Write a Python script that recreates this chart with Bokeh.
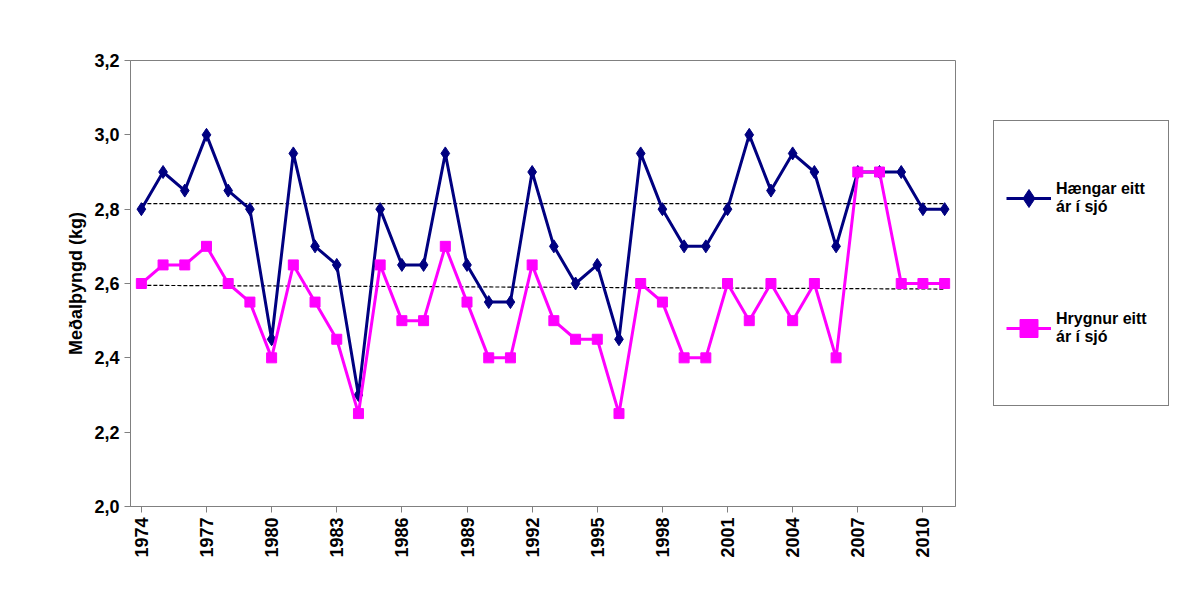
from bokeh.plotting import figure
from bokeh.models import Legend, LegendItem, FixedTicker, Range1d
from bokeh.layouts import row
from bokeh.embed import file_html
from bokeh.resources import INLINE
import math

years = list(range(1974, 2012))
haengar = [2.8, 2.9, 2.85, 3.0, 2.85, 2.8, 2.45, 2.95, 2.7, 2.65, 2.3, 2.8, 2.65, 2.65, 2.95, 2.65,
           2.55, 2.55, 2.9, 2.7, 2.6, 2.65, 2.45, 2.95, 2.8, 2.7, 2.7, 2.8, 3.0, 2.85, 2.95, 2.9,
           2.7, 2.9, 2.9, 2.9, 2.8, 2.8]
hrygnur = [2.6, 2.65, 2.65, 2.7, 2.6, 2.55, 2.4, 2.65, 2.55, 2.45, 2.25, 2.65, 2.5, 2.5, 2.7, 2.55,
           2.4, 2.4, 2.65, 2.5, 2.45, 2.45, 2.25, 2.6, 2.55, 2.4, 2.4, 2.6, 2.5, 2.6, 2.5, 2.6,
           2.4, 2.9, 2.9, 2.6, 2.6, 2.6]
trend_x = [1974, 2011]
trend_h = [2.815, 2.815]
trend_r = [2.595, 2.585]
y_ticks = [2.0, 2.2, 2.4, 2.6, 2.8, 3.0, 3.2]
x_ticks = list(range(1974, 2012, 3))
labels = ["Hængar eitt\nár í sjó", "Hrygnur eitt\nár í sjó"]

FONT = "Liberation Sans"
NAVY = "#000080"
PINK = "#ff00ff"

p = figure(frame_width=825, frame_height=446, output_backend="svg", toolbar_location=None,
           x_range=Range1d(1973.5, 2011.5), y_range=Range1d(2.0, 3.2),
           min_border_left=130, min_border_right=12, min_border_top=60, min_border_bottom=84)
p.border_fill_color = "white"
p.outline_line_color = "#808080"
p.outline_line_width = 1
p.grid.visible = False

p.line(trend_x, trend_h, line_color="black", line_dash="4 2", line_width=1.2)
p.line(trend_x, trend_r, line_color="black", line_dash="4 2", line_width=1.2)

p.line(years, haengar, line_color=NAVY, line_width=3)
p.scatter(years, haengar, marker="diamond", size=13, color=NAVY)
p.line(years, hrygnur, line_color=PINK, line_width=3)
p.scatter(years, hrygnur, marker="square", size=10, color=PINK)

p.yaxis.ticker = FixedTicker(ticks=y_ticks)
p.yaxis.major_label_overrides = {t: ("%.1f" % t).replace(".", ",") for t in y_ticks}
p.xaxis.ticker = FixedTicker(ticks=x_ticks)
p.xaxis.major_label_orientation = math.pi / 2
for ax in (p.xaxis, p.yaxis):
    ax.major_label_text_font = FONT
    ax.major_label_text_font_style = "bold"
    ax.major_label_text_font_size = "18px"
    ax.major_label_text_color = "black"
    ax.axis_line_color = "#808080"
    ax.major_tick_line_color = "#808080"
    ax.minor_tick_line_color = None
    ax.major_tick_in = 0
    ax.major_tick_out = 6
p.yaxis.axis_label = "Meðalþyngd (kg)"
p.yaxis.axis_label_text_font = FONT
p.yaxis.axis_label_text_font_style = "bold"
p.yaxis.axis_label_text_font_size = "18px"
p.yaxis.axis_label_text_color = "black"

# legend lives in its own small figure to the right; its renderers sit outside the visible range
lf = figure(width=210, height=598, output_backend="svg", toolbar_location=None,
            x_range=Range1d(0, 1), y_range=Range1d(0, 1),
            min_border=0)
lf.axis.visible = False
lf.grid.visible = False
lf.outline_line_color = None
l1 = lf.line([5, 6], [5, 6], line_color=NAVY, line_width=3)
m1 = lf.scatter([5], [5], marker="diamond", size=13, color=NAVY)
l2 = lf.line([5, 6], [5, 6], line_color=PINK, line_width=3)
m2 = lf.scatter([5], [5], marker="square", size=10, color=PINK)
legend = Legend(items=[LegendItem(label=labels[0], renderers=[l1, m1]),
                       LegendItem(label=labels[1], renderers=[l2, m2])],
                location=(26, 108), orientation="vertical", spacing=0,
                label_text_font=FONT, label_text_font_style="bold", label_text_font_size="16px",
                label_text_color="black", label_height=130, glyph_height=130,
                border_line_color="black", border_line_width=1, padding=12,
                glyph_width=45, label_width=100, margin=0)
lf.add_layout(legend, "center")

open("out.html", "w").write(file_html(row(p, lf), INLINE))
